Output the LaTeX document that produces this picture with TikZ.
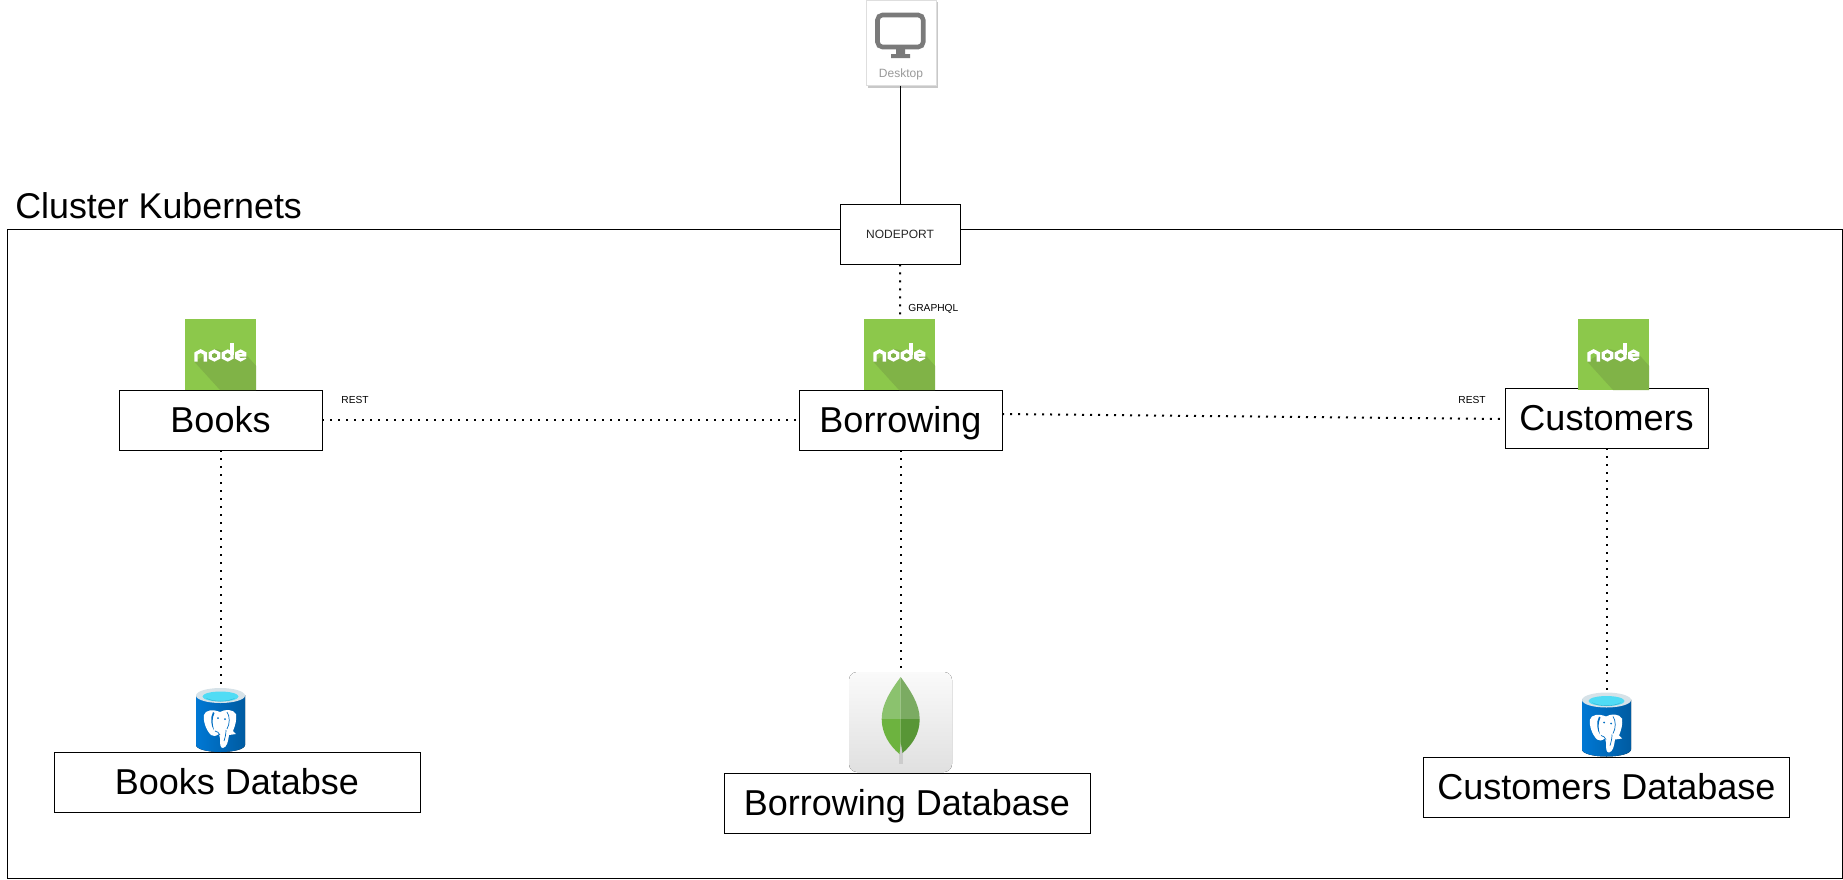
\documentclass[tikz,border=0pt]{standalone}
\usepackage{fontspec}
\setmainfont{Liberation Sans}
\newcommand{\fs}[1]{\fontsize{#1}{#1}\selectfont}
\definecolor{nlight}{RGB}{140,200,75}
\definecolor{ndark}{RGB}{128,179,71}
\definecolor{pgl}{RGB}{0,120,212}
\definecolor{pgr}{RGB}{0,91,161}
\definecolor{pgrim}{RGB}{214,226,232}
\definecolor{pgcyan}{RGB}{80,220,245}
\definecolor{pgcyand}{RGB}{50,170,205}
\definecolor{pgline}{RGB}{0,110,195}
\definecolor{mtop}{RGB}{250,250,250}
\definecolor{mbot}{RGB}{224,224,224}
\definecolor{mstem}{RGB}{204,204,204}
\definecolor{leafa}{RGB}{139,194,110}
\definecolor{leafb}{RGB}{123,171,98}
\definecolor{leafc}{RGB}{109,179,63}
\definecolor{leafd}{RGB}{88,150,54}
\definecolor{cardshadow}{RGB}{200,200,200}
\definecolor{cardedge}{RGB}{222,222,222}
\definecolor{monitor}{RGB}{122,122,122}
\definecolor{cardtext}{RGB}{153,153,153}
\tikzset{
  x=0.5pt,y=-0.5pt,
  bigbox/.style={draw=black,fill=white,line width=0.45pt,inner sep=0pt,minimum height=30pt,font=\fs{18},text height=13pt,text depth=0.5pt},
  svcbox/.style={bigbox,minimum width=101.5pt},
  dbbox/.style={bigbox,minimum width=183pt},
  dots/.style={line width=1pt,dash pattern=on 1pt off 3pt},
  link/.style={line width=0.45pt},
  tinylabel/.style={inner sep=0pt,font=\fs{5.1},text=black},
  iconspot/.style={inner sep=0pt,draw=none},
  nodelogo/.pic={
    \fill[nlight] (0,0) rectangle (71,71);
    \fill[ndark] (9.3,42.7)--(35,71)--(71,71)--(71,46.7)--(61.3,36)--(30,30)--cycle;
    \draw[white,line width=1.7pt,miter limit=10] (11,42.7)--(11,34.5)--(15.65,32)--(20.3,34.5)--(20.3,42.7);
    \fill[white,even odd rule] (29.4,30.3)--(35.3,33.4)--(35.3,39.6)--(29.4,42.7)--(23.5,39.6)--(23.5,33.4)--cycle
      (29.4,34)--(32,35.3)--(32,37.9)--(29.4,39.2)--(26.8,37.9)--(26.8,35.3)--cycle;
    \fill[white,even odd rule] (42.7,30.3)--(48.7,33.4)--(48.7,39.6)--(42.7,42.7)--(36.7,39.6)--(36.7,33.4)--cycle
      (42.7,34)--(45.3,35.3)--(45.3,37.9)--(42.7,39.2)--(40.1,37.9)--(40.1,35.3)--cycle;
    \fill[white] (45.4,23.7) rectangle (48.7,36);
    \fill[white,even odd rule] (55.6,30.3)--(61.3,33.4)--(61.3,37.5)--(54,37.5)--(55.6,39.2)--(60.5,38.5)--(61.3,39.6)--(55.6,42.7)--(50,39.6)--(50,33.4)--cycle
      (55.6,33.6)--(58,35)--(53,35)--cycle;
  },
  pgicon/.pic={
    \fill[left color=pgl,right color=pgr]
      (0,7) -- (0,57) .. controls (0,61) and (11,64) .. (24.5,64) .. controls (38,64) and (49,61) .. (49,57) -- (49,7) -- cycle;
    \fill[pgrim] (24.5,7.5) ellipse [x radius=24.5,y radius=7.5];
    \fill[pgcyan] (24.5,8.5) ellipse [x radius=18,y radius=5];
    \fill[pgcyand] (10,10) .. controls (18,14) and (31,14) .. (39,10) .. controls (33,14.5) and (16,14.5) .. (10,10) -- cycle;
    \fill[white] (8,27) .. controls (9,22) and (17,21) .. (24,24) .. controls (29,21) and (37,21) .. (40,26)
      .. controls (41,32) and (39,38) .. (37,43) -- (40,46) -- (33,47) .. controls (32,54) and (31,59) .. (27,60)
      .. controls (24,60) and (24,56) .. (24,50) -- (23,46) .. controls (20,48) and (17,49) .. (15,47)
      .. controls (10,42) and (7,33) .. (8,27) -- cycle;
    \fill[pgline] (17,24) .. controls (14,30) and (15,38) .. (18,42) .. controls (16,36) and (16,30) .. (18.5,25) -- cycle;
    \draw[pgline,line width=0.35pt] (31,24) .. controls (34,28) and (34,36) .. (31,41);
    \draw[pgline,line width=0.35pt] (19,43) .. controls (21,44) and (23,44) .. (24,47);
    \draw[pgline,line width=0.35pt] (30,42) .. controls (30,46) and (29,50) .. (28,53);
    \fill[pgline] (22,30) circle (1) (29,31) circle (1);
  },
  mongoicon/.pic={
    \fill[rounded corners=4pt,top color=mtop,bottom color=mbot] (0,0) rectangle (103,100);
    \fill[mstem] (50.3,72) rectangle (53.7,92);
    \fill[leafa] (51.7,5) .. controls (42,18) and (32.7,32) .. (32.7,47) -- (51.7,47) -- cycle;
    \fill[leafb] (51.7,5) .. controls (61,18) and (70.7,32) .. (70.7,47) -- (51.7,47) -- cycle;
    \fill[leafc] (32.7,47) .. controls (32.7,62) and (41,74) .. (50.5,82) -- (51.7,70) -- (51.7,47) -- cycle;
    \fill[leafd] (70.7,47) .. controls (70.7,62) and (63,73) .. (53.5,81) -- (51.7,70) -- (51.7,47) -- cycle;
  },
}
\begin{document}
\begin{tikzpicture}
\useasboundingbox (0,0) rectangle (1843,879);
% cluster frame
\node[draw=black,line width=0.45pt,inner sep=0pt,minimum width=917.5pt,minimum height=324.5pt] (cluster) at (924.5,554) {};
\node[anchor=base west,inner sep=0pt,font=\fs{17.9}] (clusterlabel) at (15,218) {Cluster Kubernets};
% desktop card
\fill[cardshadow] (868,2) rectangle (938,88);
\node[draw=cardedge,fill=white,line width=0.5pt,inner sep=0pt,minimum width=35pt,minimum height=42.5pt] (desktop) at (901,42.5) {};
\draw[monitor,line width=2.3pt,rounded corners=2.5pt] (877.5,15) rectangle (923.2,47);
\fill[monitor] (896,48) rectangle (905,54) (891,54) rectangle (910,58);
\node[inner sep=0pt,font=\fs{6},text=cardtext] (desktoplabel) at (901,74) {Desktop};
% boxes
\node[draw=black,fill=white,line width=0.45pt,inner sep=0pt,minimum width=60pt,minimum height=30pt,font=\fs{6},text=black!85] (nodeport) at (900,234) {NODEPORT};
\node[svcbox] (books) at (220.5,420) {Books};
\node[svcbox] (borrowing) at (900.5,420) {Borrowing};
\node[svcbox] (customers) at (1606.5,418) {Customers};
\node[dbbox] (booksdb) at (237,782) {Books Databse};
\node[dbbox] (borrowingdb) at (907,803) {Borrowing Database};
\node[dbbox] (customersdb) at (1606.5,787) {Customers Database};
% icon anchors
\node[iconspot,minimum width=24.5pt,minimum height=32pt] (bookspg) at (220.5,720) {};
\node[iconspot,minimum width=24.5pt,minimum height=32pt] (customerspg) at (1606.5,724.5) {};
\node[iconspot,minimum width=51.5pt,minimum height=50pt] (mongo) at (900.5,722) {};
% connectors
\draw[link] (desktop.south -| nodeport.north) -- (nodeport.north);
\draw[dots] (nodeport.south) -- (borrowing.north);
\draw[dots] (books.east) -- (borrowing.west);
\coordinate (borrowingout) at (1002,414);
\coordinate (customersin) at (1505,419);
\draw[dots] (borrowingout) -- (customersin);
\draw[dots] (books.south) -- (bookspg.north);
\draw[dots] (borrowing.south) -- (mongo.north);
\draw[dots] (customers.south) -- (customerspg.north);
% labels
\node[tinylabel,anchor=center] (rest1) at (355,399.5) {REST};
\node[tinylabel,anchor=center] (rest2) at (1472,399.5) {REST};
\node[tinylabel,anchor=west] (graphql) at (908,309) {GRAPHQL};
% icons
\pic at (185,319) {nodelogo};
\pic at (864,319) {nodelogo};
\pic at (1578,319) {nodelogo};
\pic at (196,688) {pgicon};
\pic at (1582,692.5) {pgicon};
\pic at (849,672) {mongoicon};
\end{tikzpicture}
\end{document}
